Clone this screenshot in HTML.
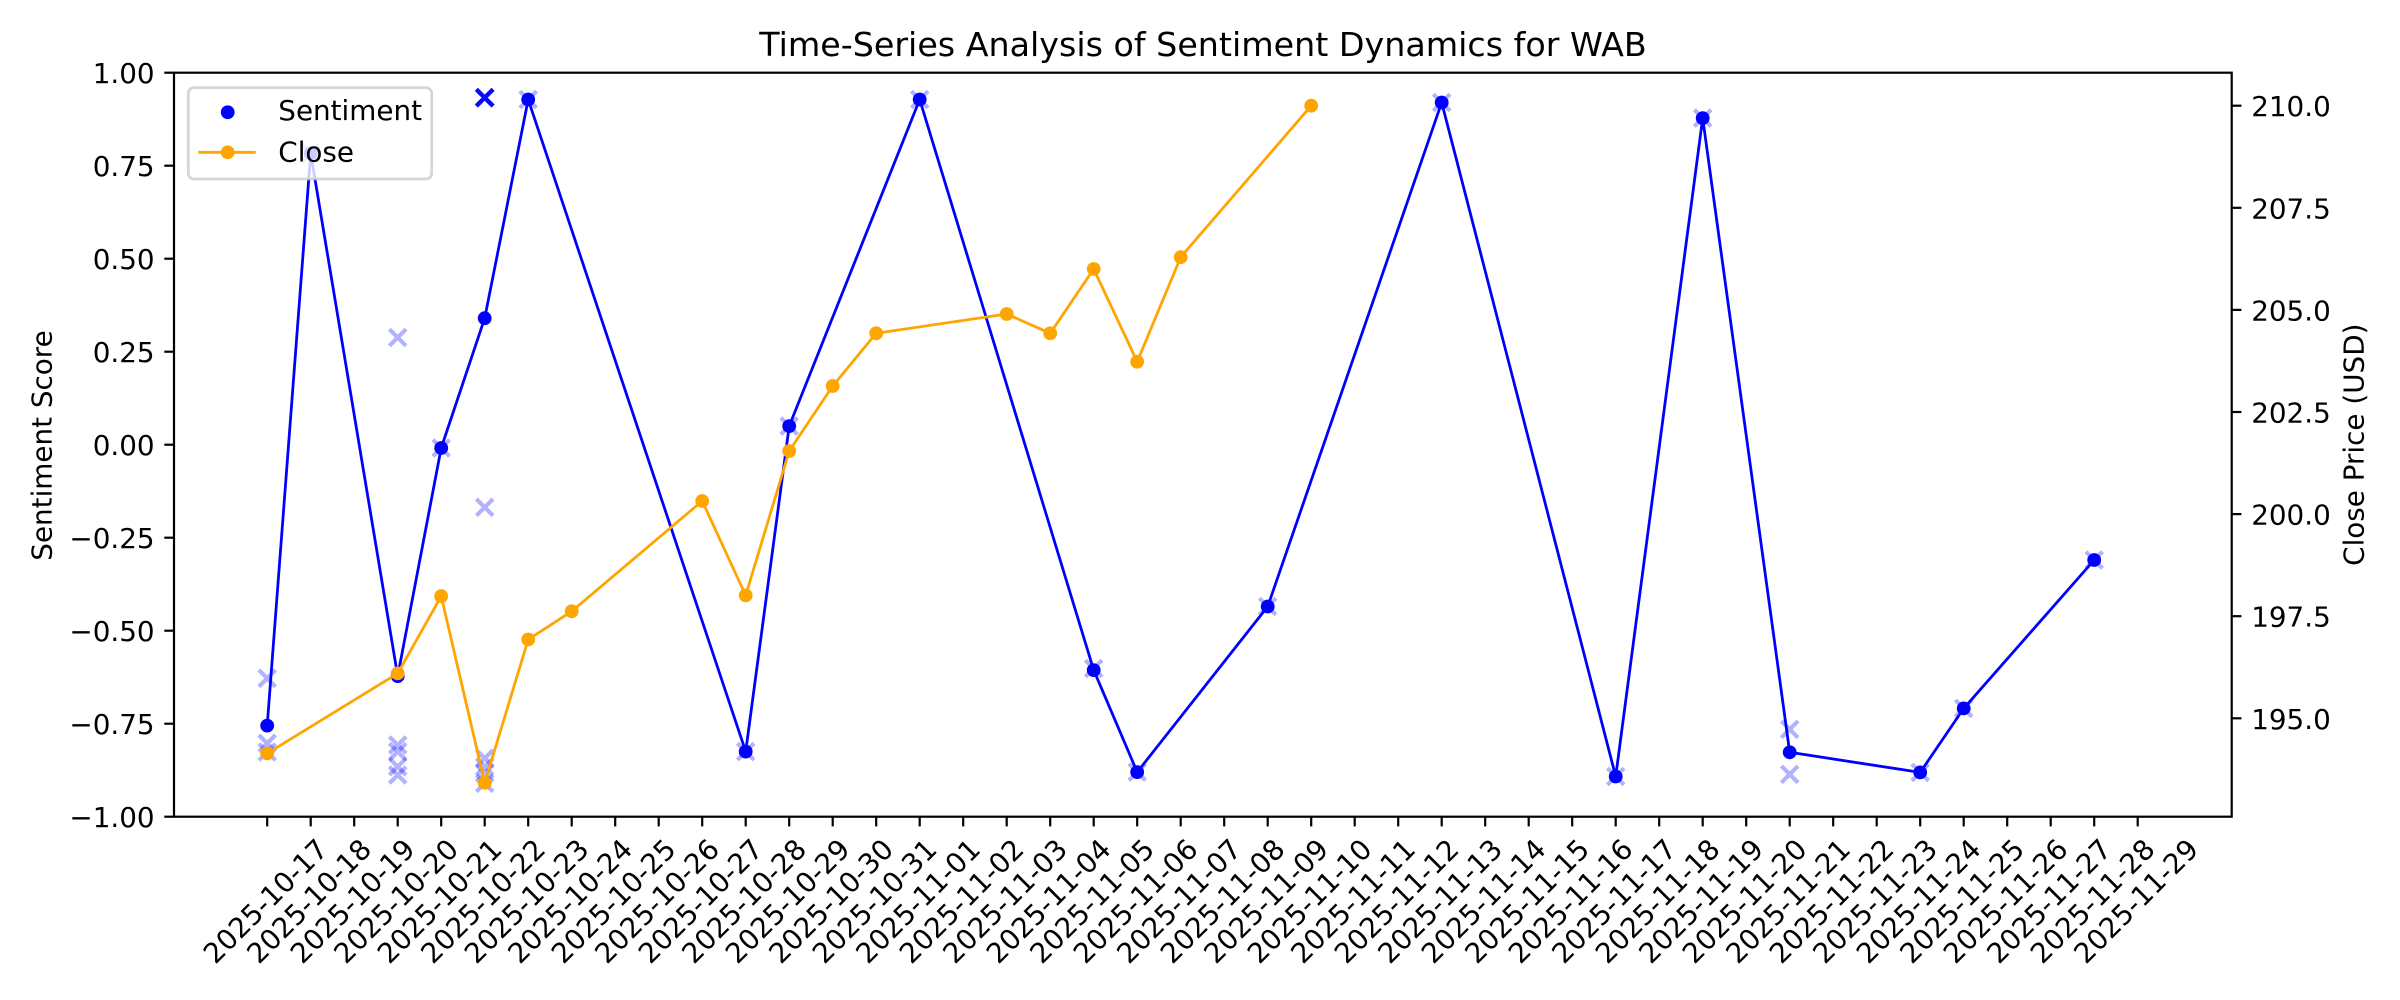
<!DOCTYPE html>
<html>
<head>
<meta charset="utf-8">
<style>
html,body{margin:0;padding:0;background:#fff;}
svg{display:block;}
text{font-family:"DejaVu Sans","Liberation Sans",sans-serif;fill:#000;}
</style>
</head>
<body>
<svg width="2400" height="1000" viewBox="0 0 2400 1000" xmlns="http://www.w3.org/2000/svg">
<rect x="0" y="0" width="2400" height="1000" fill="#fff"/>

<!-- Title -->
<text x="1203" y="56" font-size="33.3" text-anchor="middle">Time-Series Analysis of Sentiment Dynamics for WAB</text>

<!-- Individual sentiment x markers -->
<g stroke="#0000ff" stroke-opacity="0.3" stroke-width="4.17" fill="none">
<path transform="translate(267.2,678.3)" d="M-8.33,-8.33L8.33,8.33M-8.33,8.33L8.33,-8.33"/>
<path transform="translate(267.2,743.3)" d="M-8.33,-8.33L8.33,8.33M-8.33,8.33L8.33,-8.33"/>
<path transform="translate(267.2,752)" d="M-8.33,-8.33L8.33,8.33M-8.33,8.33L8.33,-8.33"/>
<path transform="translate(310.7,153.4)" d="M-8.33,-8.33L8.33,8.33M-8.33,8.33L8.33,-8.33"/>
<path transform="translate(397.7,337.5)" d="M-8.33,-8.33L8.33,8.33M-8.33,8.33L8.33,-8.33"/>
<path transform="translate(397.7,745)" d="M-8.33,-8.33L8.33,8.33M-8.33,8.33L8.33,-8.33"/>
<path transform="translate(397.7,751.7)" d="M-8.33,-8.33L8.33,8.33M-8.33,8.33L8.33,-8.33"/>
<path transform="translate(397.7,766.7)" d="M-8.33,-8.33L8.33,8.33M-8.33,8.33L8.33,-8.33"/>
<path transform="translate(397.7,775)" d="M-8.33,-8.33L8.33,8.33M-8.33,8.33L8.33,-8.33"/>
<path transform="translate(441.2,448)" d="M-8.33,-8.33L8.33,8.33M-8.33,8.33L8.33,-8.33"/>
<path transform="translate(484.7,97.7)" d="M-8.33,-8.33L8.33,8.33M-8.33,8.33L8.33,-8.33"/>
<path transform="translate(484.7,97.7)" d="M-8.33,-8.33L8.33,8.33M-8.33,8.33L8.33,-8.33"/>
<path transform="translate(484.7,97.7)" d="M-8.33,-8.33L8.33,8.33M-8.33,8.33L8.33,-8.33"/>
<path transform="translate(484.7,97.7)" d="M-8.33,-8.33L8.33,8.33M-8.33,8.33L8.33,-8.33"/>
<path transform="translate(484.7,97.7)" d="M-8.33,-8.33L8.33,8.33M-8.33,8.33L8.33,-8.33"/>
<path transform="translate(484.7,97.7)" d="M-8.33,-8.33L8.33,8.33M-8.33,8.33L8.33,-8.33"/>
<path transform="translate(484.7,97.7)" d="M-8.33,-8.33L8.33,8.33M-8.33,8.33L8.33,-8.33"/>
<path transform="translate(484.7,97.7)" d="M-8.33,-8.33L8.33,8.33M-8.33,8.33L8.33,-8.33"/>
<path transform="translate(484.7,97.7)" d="M-8.33,-8.33L8.33,8.33M-8.33,8.33L8.33,-8.33"/>
<path transform="translate(484.7,507.3)" d="M-8.33,-8.33L8.33,8.33M-8.33,8.33L8.33,-8.33"/>
<path transform="translate(484.7,758.3)" d="M-8.33,-8.33L8.33,8.33M-8.33,8.33L8.33,-8.33"/>
<path transform="translate(484.7,766.7)" d="M-8.33,-8.33L8.33,8.33M-8.33,8.33L8.33,-8.33"/>
<path transform="translate(484.7,773.3)" d="M-8.33,-8.33L8.33,8.33M-8.33,8.33L8.33,-8.33"/>
<path transform="translate(484.7,783.3)" d="M-8.33,-8.33L8.33,8.33M-8.33,8.33L8.33,-8.33"/>
<path transform="translate(528.2,99.5)" d="M-8.33,-8.33L8.33,8.33M-8.33,8.33L8.33,-8.33"/>
<path transform="translate(745.7,751.6)" d="M-8.33,-8.33L8.33,8.33M-8.33,8.33L8.33,-8.33"/>
<path transform="translate(789.2,426.1)" d="M-8.33,-8.33L8.33,8.33M-8.33,8.33L8.33,-8.33"/>
<path transform="translate(919.7,99.5)" d="M-8.33,-8.33L8.33,8.33M-8.33,8.33L8.33,-8.33"/>
<path transform="translate(1093.7,668.5)" d="M-8.33,-8.33L8.33,8.33M-8.33,8.33L8.33,-8.33"/>
<path transform="translate(1137.2,772.1)" d="M-8.33,-8.33L8.33,8.33M-8.33,8.33L8.33,-8.33"/>
<path transform="translate(1267.7,606.5)" d="M-8.33,-8.33L8.33,8.33M-8.33,8.33L8.33,-8.33"/>
<path transform="translate(1441.7,102.5)" d="M-8.33,-8.33L8.33,8.33M-8.33,8.33L8.33,-8.33"/>
<path transform="translate(1615.7,776.5)" d="M-8.33,-8.33L8.33,8.33M-8.33,8.33L8.33,-8.33"/>
<path transform="translate(1702.7,118.1)" d="M-8.33,-8.33L8.33,8.33M-8.33,8.33L8.33,-8.33"/>
<path transform="translate(1789.7,729.3)" d="M-8.33,-8.33L8.33,8.33M-8.33,8.33L8.33,-8.33"/>
<path transform="translate(1789.7,774.3)" d="M-8.33,-8.33L8.33,8.33M-8.33,8.33L8.33,-8.33"/>
<path transform="translate(1920.2,772.4)" d="M-8.33,-8.33L8.33,8.33M-8.33,8.33L8.33,-8.33"/>
<path transform="translate(1963.7,708.4)" d="M-8.33,-8.33L8.33,8.33M-8.33,8.33L8.33,-8.33"/>
<path transform="translate(2094.2,560)" d="M-8.33,-8.33L8.33,8.33M-8.33,8.33L8.33,-8.33"/>
</g>

<!-- Sentiment daily mean line -->
<polyline fill="none" stroke="#0000ff" stroke-width="2.78" stroke-linejoin="round"
points="267.2,725.6 310.7,153.4 397.7,676.1 441.2,448.0 484.7,318.2 528.2,99.5 745.7,751.6 789.2,426.1 919.7,99.5 1093.7,670.1 1137.2,772.1 1267.7,606.5 1441.7,102.5 1615.7,776.5 1702.7,118.1 1789.7,752.3 1920.2,772.4 1963.7,708.4 2094.2,560.0"/>
<g fill="#0000ff">
<circle cx="267.2" cy="725.6" r="6.9"/>
<circle cx="310.7" cy="153.4" r="6.9"/>
<circle cx="397.7" cy="676.1" r="6.9"/>
<circle cx="441.2" cy="448.0" r="6.9"/>
<circle cx="484.7" cy="318.2" r="6.9"/>
<circle cx="528.2" cy="99.5" r="6.9"/>
<circle cx="745.7" cy="751.6" r="6.9"/>
<circle cx="789.2" cy="426.1" r="6.9"/>
<circle cx="919.7" cy="99.5" r="6.9"/>
<circle cx="1093.7" cy="670.1" r="6.9"/>
<circle cx="1137.2" cy="772.1" r="6.9"/>
<circle cx="1267.7" cy="606.5" r="6.9"/>
<circle cx="1441.7" cy="102.5" r="6.9"/>
<circle cx="1615.7" cy="776.5" r="6.9"/>
<circle cx="1702.7" cy="118.1" r="6.9"/>
<circle cx="1789.7" cy="752.3" r="6.9"/>
<circle cx="1920.2" cy="772.4" r="6.9"/>
<circle cx="1963.7" cy="708.4" r="6.9"/>
<circle cx="2094.2" cy="560.0" r="6.9"/>
</g>

<!-- Close price line -->
<polyline fill="none" stroke="#ffa500" stroke-width="2.78" stroke-linejoin="round"
points="267.2,753.4 397.7,673.4 441.2,596.2 484.7,782.8 528.2,639.5 571.7,611.3 702.2,501.0 745.7,595.4 789.2,451.0 832.7,386.0 876.2,333.3 1006.7,314.0 1050.2,333.3 1093.7,269.0 1137.2,361.7 1180.7,257.1 1311.2,105.7"/>
<g fill="#ffa500">
<circle cx="267.2" cy="753.4" r="6.9"/>
<circle cx="397.7" cy="673.4" r="6.9"/>
<circle cx="441.2" cy="596.2" r="6.9"/>
<circle cx="484.7" cy="782.8" r="6.9"/>
<circle cx="528.2" cy="639.5" r="6.9"/>
<circle cx="571.7" cy="611.3" r="6.9"/>
<circle cx="702.2" cy="501.0" r="6.9"/>
<circle cx="745.7" cy="595.4" r="6.9"/>
<circle cx="789.2" cy="451.0" r="6.9"/>
<circle cx="832.7" cy="386.0" r="6.9"/>
<circle cx="876.2" cy="333.3" r="6.9"/>
<circle cx="1006.7" cy="314.0" r="6.9"/>
<circle cx="1050.2" cy="333.3" r="6.9"/>
<circle cx="1093.7" cy="269.0" r="6.9"/>
<circle cx="1137.2" cy="361.7" r="6.9"/>
<circle cx="1180.7" cy="257.1" r="6.9"/>
<circle cx="1311.2" cy="105.7" r="6.9"/>
</g>

<!-- Axes frame -->
<rect x="174" y="72.7" width="2057.7" height="744" fill="none" stroke="#000" stroke-width="2.2"/>

<!-- Left y ticks -->
<g stroke="#000" stroke-width="2.2">
<line x1="164.3" y1="72.7" x2="174" y2="72.7"/>
<line x1="164.3" y1="165.7" x2="174" y2="165.7"/>
<line x1="164.3" y1="258.7" x2="174" y2="258.7"/>
<line x1="164.3" y1="351.7" x2="174" y2="351.7"/>
<line x1="164.3" y1="444.7" x2="174" y2="444.7"/>
<line x1="164.3" y1="537.7" x2="174" y2="537.7"/>
<line x1="164.3" y1="630.7" x2="174" y2="630.7"/>
<line x1="164.3" y1="723.7" x2="174" y2="723.7"/>
<line x1="164.3" y1="816.7" x2="174" y2="816.7"/>
</g>
<g font-size="27.8" text-anchor="end">
<text x="154.6" y="83.2">1.00</text>
<text x="154.6" y="176.2">0.75</text>
<text x="154.6" y="269.2">0.50</text>
<text x="154.6" y="362.2">0.25</text>
<text x="154.6" y="455.2">0.00</text>
<text x="154.6" y="548.2">−0.25</text>
<text x="154.6" y="641.2">−0.50</text>
<text x="154.6" y="734.2">−0.75</text>
<text x="154.6" y="827.2">−1.00</text>
</g>
<text transform="translate(51.5,445.5) rotate(-90)" font-size="27.8" text-anchor="middle">Sentiment Score</text>

<!-- Right y ticks -->
<g stroke="#000" stroke-width="2.2">
<line x1="2231.7" y1="105.7" x2="2241.4" y2="105.7"/>
<line x1="2231.7" y1="207.8" x2="2241.4" y2="207.8"/>
<line x1="2231.7" y1="309.9" x2="2241.4" y2="309.9"/>
<line x1="2231.7" y1="412.0" x2="2241.4" y2="412.0"/>
<line x1="2231.7" y1="514.1" x2="2241.4" y2="514.1"/>
<line x1="2231.7" y1="616.2" x2="2241.4" y2="616.2"/>
<line x1="2231.7" y1="718.3" x2="2241.4" y2="718.3"/>
</g>
<g font-size="27.8" text-anchor="start">
<text x="2251.2" y="116.2">210.0</text>
<text x="2251.2" y="218.3">207.5</text>
<text x="2251.2" y="320.4">205.0</text>
<text x="2251.2" y="422.5">202.5</text>
<text x="2251.2" y="524.6">200.0</text>
<text x="2251.2" y="626.7">197.5</text>
<text x="2251.2" y="728.8">195.0</text>
</g>
<text transform="translate(2363.3,444.7) rotate(-90)" font-size="27.8" text-anchor="middle">Close Price (USD)</text>

<!-- X ticks -->
<g stroke="#000" stroke-width="2.2">
<line x1="267.2" y1="816.7" x2="267.2" y2="826.4"/>
<line x1="310.7" y1="816.7" x2="310.7" y2="826.4"/>
<line x1="354.2" y1="816.7" x2="354.2" y2="826.4"/>
<line x1="397.7" y1="816.7" x2="397.7" y2="826.4"/>
<line x1="441.2" y1="816.7" x2="441.2" y2="826.4"/>
<line x1="484.7" y1="816.7" x2="484.7" y2="826.4"/>
<line x1="528.2" y1="816.7" x2="528.2" y2="826.4"/>
<line x1="571.7" y1="816.7" x2="571.7" y2="826.4"/>
<line x1="615.2" y1="816.7" x2="615.2" y2="826.4"/>
<line x1="658.7" y1="816.7" x2="658.7" y2="826.4"/>
<line x1="702.2" y1="816.7" x2="702.2" y2="826.4"/>
<line x1="745.7" y1="816.7" x2="745.7" y2="826.4"/>
<line x1="789.2" y1="816.7" x2="789.2" y2="826.4"/>
<line x1="832.7" y1="816.7" x2="832.7" y2="826.4"/>
<line x1="876.2" y1="816.7" x2="876.2" y2="826.4"/>
<line x1="919.7" y1="816.7" x2="919.7" y2="826.4"/>
<line x1="963.2" y1="816.7" x2="963.2" y2="826.4"/>
<line x1="1006.7" y1="816.7" x2="1006.7" y2="826.4"/>
<line x1="1050.2" y1="816.7" x2="1050.2" y2="826.4"/>
<line x1="1093.7" y1="816.7" x2="1093.7" y2="826.4"/>
<line x1="1137.2" y1="816.7" x2="1137.2" y2="826.4"/>
<line x1="1180.7" y1="816.7" x2="1180.7" y2="826.4"/>
<line x1="1224.2" y1="816.7" x2="1224.2" y2="826.4"/>
<line x1="1267.7" y1="816.7" x2="1267.7" y2="826.4"/>
<line x1="1311.2" y1="816.7" x2="1311.2" y2="826.4"/>
<line x1="1354.7" y1="816.7" x2="1354.7" y2="826.4"/>
<line x1="1398.2" y1="816.7" x2="1398.2" y2="826.4"/>
<line x1="1441.7" y1="816.7" x2="1441.7" y2="826.4"/>
<line x1="1485.2" y1="816.7" x2="1485.2" y2="826.4"/>
<line x1="1528.7" y1="816.7" x2="1528.7" y2="826.4"/>
<line x1="1572.2" y1="816.7" x2="1572.2" y2="826.4"/>
<line x1="1615.7" y1="816.7" x2="1615.7" y2="826.4"/>
<line x1="1659.2" y1="816.7" x2="1659.2" y2="826.4"/>
<line x1="1702.7" y1="816.7" x2="1702.7" y2="826.4"/>
<line x1="1746.2" y1="816.7" x2="1746.2" y2="826.4"/>
<line x1="1789.7" y1="816.7" x2="1789.7" y2="826.4"/>
<line x1="1833.2" y1="816.7" x2="1833.2" y2="826.4"/>
<line x1="1876.7" y1="816.7" x2="1876.7" y2="826.4"/>
<line x1="1920.2" y1="816.7" x2="1920.2" y2="826.4"/>
<line x1="1963.7" y1="816.7" x2="1963.7" y2="826.4"/>
<line x1="2007.2" y1="816.7" x2="2007.2" y2="826.4"/>
<line x1="2050.7" y1="816.7" x2="2050.7" y2="826.4"/>
<line x1="2094.2" y1="816.7" x2="2094.2" y2="826.4"/>
<line x1="2137.7" y1="816.7" x2="2137.7" y2="826.4"/>
</g>
<g font-size="27.8" text-anchor="middle">
<text transform="translate(267.2,902.9) rotate(-45)" y="7.3">2025-10-17</text>
<text transform="translate(310.7,902.9) rotate(-45)" y="7.3">2025-10-18</text>
<text transform="translate(354.2,902.9) rotate(-45)" y="7.3">2025-10-19</text>
<text transform="translate(397.7,902.9) rotate(-45)" y="7.3">2025-10-20</text>
<text transform="translate(441.2,902.9) rotate(-45)" y="7.3">2025-10-21</text>
<text transform="translate(484.7,902.9) rotate(-45)" y="7.3">2025-10-22</text>
<text transform="translate(528.2,902.9) rotate(-45)" y="7.3">2025-10-23</text>
<text transform="translate(571.7,902.9) rotate(-45)" y="7.3">2025-10-24</text>
<text transform="translate(615.2,902.9) rotate(-45)" y="7.3">2025-10-25</text>
<text transform="translate(658.7,902.9) rotate(-45)" y="7.3">2025-10-26</text>
<text transform="translate(702.2,902.9) rotate(-45)" y="7.3">2025-10-27</text>
<text transform="translate(745.7,902.9) rotate(-45)" y="7.3">2025-10-28</text>
<text transform="translate(789.2,902.9) rotate(-45)" y="7.3">2025-10-29</text>
<text transform="translate(832.7,902.9) rotate(-45)" y="7.3">2025-10-30</text>
<text transform="translate(876.2,902.9) rotate(-45)" y="7.3">2025-10-31</text>
<text transform="translate(919.7,902.9) rotate(-45)" y="7.3">2025-11-01</text>
<text transform="translate(963.2,902.9) rotate(-45)" y="7.3">2025-11-02</text>
<text transform="translate(1006.7,902.9) rotate(-45)" y="7.3">2025-11-03</text>
<text transform="translate(1050.2,902.9) rotate(-45)" y="7.3">2025-11-04</text>
<text transform="translate(1093.7,902.9) rotate(-45)" y="7.3">2025-11-05</text>
<text transform="translate(1137.2,902.9) rotate(-45)" y="7.3">2025-11-06</text>
<text transform="translate(1180.7,902.9) rotate(-45)" y="7.3">2025-11-07</text>
<text transform="translate(1224.2,902.9) rotate(-45)" y="7.3">2025-11-08</text>
<text transform="translate(1267.7,902.9) rotate(-45)" y="7.3">2025-11-09</text>
<text transform="translate(1311.2,902.9) rotate(-45)" y="7.3">2025-11-10</text>
<text transform="translate(1354.7,902.9) rotate(-45)" y="7.3">2025-11-11</text>
<text transform="translate(1398.2,902.9) rotate(-45)" y="7.3">2025-11-12</text>
<text transform="translate(1441.7,902.9) rotate(-45)" y="7.3">2025-11-13</text>
<text transform="translate(1485.2,902.9) rotate(-45)" y="7.3">2025-11-14</text>
<text transform="translate(1528.7,902.9) rotate(-45)" y="7.3">2025-11-15</text>
<text transform="translate(1572.2,902.9) rotate(-45)" y="7.3">2025-11-16</text>
<text transform="translate(1615.7,902.9) rotate(-45)" y="7.3">2025-11-17</text>
<text transform="translate(1659.2,902.9) rotate(-45)" y="7.3">2025-11-18</text>
<text transform="translate(1702.7,902.9) rotate(-45)" y="7.3">2025-11-19</text>
<text transform="translate(1746.2,902.9) rotate(-45)" y="7.3">2025-11-20</text>
<text transform="translate(1789.7,902.9) rotate(-45)" y="7.3">2025-11-21</text>
<text transform="translate(1833.2,902.9) rotate(-45)" y="7.3">2025-11-22</text>
<text transform="translate(1876.7,902.9) rotate(-45)" y="7.3">2025-11-23</text>
<text transform="translate(1920.2,902.9) rotate(-45)" y="7.3">2025-11-24</text>
<text transform="translate(1963.7,902.9) rotate(-45)" y="7.3">2025-11-25</text>
<text transform="translate(2007.2,902.9) rotate(-45)" y="7.3">2025-11-26</text>
<text transform="translate(2050.7,902.9) rotate(-45)" y="7.3">2025-11-27</text>
<text transform="translate(2094.2,902.9) rotate(-45)" y="7.3">2025-11-28</text>
<text transform="translate(2137.7,902.9) rotate(-45)" y="7.3">2025-11-29</text>
</g>

<!-- Legend -->
<rect x="188.3" y="87.7" width="243.4" height="91.3" rx="5.6" ry="5.6" fill="#ffffff" fill-opacity="0.8" stroke="#cccccc" stroke-opacity="0.8" stroke-width="2.78"/>
<circle cx="227.7" cy="112.3" r="6.9" fill="#0000ff"/>
<line x1="198.3" y1="152.3" x2="255.7" y2="152.3" stroke="#ffa500" stroke-width="2.78"/>
<circle cx="227.7" cy="152.3" r="6.9" fill="#ffa500"/>
<text x="278.3" y="120" font-size="27.8">Sentiment</text>
<text x="278.3" y="161.7" font-size="27.8">Close</text>
</svg>
</body>
</html>
